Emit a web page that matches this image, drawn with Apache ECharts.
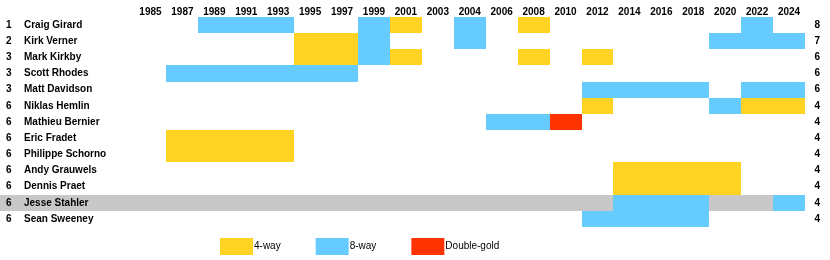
<!DOCTYPE html>
<html>
<head>
<meta charset="utf-8">
<script src="https://cdn.jsdelivr.net/npm/echarts@6/dist/echarts.min.js"></script>
<style>html,body{margin:0;padding:0;background:#fff}#c{width:830px;height:260px}</style>
</head>
<body>
<div id="c"></div>
<script>
const years = ['1985','1987','1989','1991','1993','1995','1997','1999','2001','2003','2004','2006','2008','2010','2012','2014','2016','2018','2020','2022','2024'];
const names = ['Craig Girard','Kirk Verner','Mark Kirkby','Scott Rhodes','Matt Davidson','Niklas Hemlin','Mathieu Bernier','Eric Fradet','Philippe Schorno','Andy Grauwels','Dennis Praet','Jesse Stahler','Sean Sweeney'];
const ranks = ['1','2','3','3','3','6','6','6','6','6','6','6','6'];
const totals = ['8','7','6','6','6','4','4','4','4','4','4','4','4'];
const highlighted = ['Jesse Stahler'];

const fourWay = [
  ['Craig Girard','2001'],['Craig Girard','2008'],
  ['Kirk Verner','1995'],['Kirk Verner','1997'],
  ['Mark Kirkby','1995'],['Mark Kirkby','1997'],['Mark Kirkby','2001'],['Mark Kirkby','2008'],['Mark Kirkby','2012'],
  ['Niklas Hemlin','2012'],['Niklas Hemlin','2022'],['Niklas Hemlin','2024'],
  ['Eric Fradet','1987'],['Eric Fradet','1989'],['Eric Fradet','1991'],['Eric Fradet','1993'],
  ['Philippe Schorno','1987'],['Philippe Schorno','1989'],['Philippe Schorno','1991'],['Philippe Schorno','1993'],
  ['Andy Grauwels','2014'],['Andy Grauwels','2016'],['Andy Grauwels','2018'],['Andy Grauwels','2020'],
  ['Dennis Praet','2014'],['Dennis Praet','2016'],['Dennis Praet','2018'],['Dennis Praet','2020']
];
const eightWay = [
  ['Craig Girard','1989'],['Craig Girard','1991'],['Craig Girard','1993'],['Craig Girard','1999'],['Craig Girard','2004'],['Craig Girard','2022'],
  ['Kirk Verner','1999'],['Kirk Verner','2004'],['Kirk Verner','2020'],['Kirk Verner','2022'],['Kirk Verner','2024'],
  ['Mark Kirkby','1999'],
  ['Scott Rhodes','1987'],['Scott Rhodes','1989'],['Scott Rhodes','1991'],['Scott Rhodes','1993'],['Scott Rhodes','1995'],['Scott Rhodes','1997'],
  ['Matt Davidson','2012'],['Matt Davidson','2014'],['Matt Davidson','2016'],['Matt Davidson','2018'],['Matt Davidson','2022'],['Matt Davidson','2024'],
  ['Niklas Hemlin','2020'],
  ['Mathieu Bernier','2006'],['Mathieu Bernier','2008'],
  ['Jesse Stahler','2014'],['Jesse Stahler','2016'],['Jesse Stahler','2018'],['Jesse Stahler','2024'],
  ['Sean Sweeney','2012'],['Sean Sweeney','2014'],['Sean Sweeney','2016'],['Sean Sweeney','2018']
];
const doubleGold = [
  ['Mathieu Bernier','2010']
];

const FONT = '"Liberation Sans", Arial, sans-serif';
const toCells = list => list.map(([n, y]) => [years.indexOf(y), names.indexOf(n)]);

function cellRender(params, api) {
  const c = api.coord([api.value(0), api.value(1)]);
  const s = api.size([1, 1]);
  const x1 = Math.round(c[0] - s[0] / 2), x2 = Math.round(c[0] + s[0] / 2);
  const y1 = Math.round(c[1] - s[1] / 2), y2 = Math.round(c[1] + s[1] / 2);
  return { type: 'rect', shape: { x: x1, y: y1, width: x2 - x1, height: y2 - y1 }, style: api.style() };
}
function bandRender(params, api) {
  const c = api.coord([0, api.value(1)]);
  const s = api.size([1, 1]);
  const y1 = Math.round(c[1] - s[1] / 2), y2 = Math.round(c[1] + s[1] / 2);
  const right = params.coordSys.x + params.coordSys.width;
  return { type: 'rect', shape: { x: 0, y: y1, width: Math.round(right), height: y2 - y1 }, style: { fill: '#C8C8C8' } };
}

const chart = echarts.init(document.getElementById('c'));
chart.setOption({
  animation: false,
  backgroundColor: '#ffffff',
  textStyle: { fontFamily: FONT },
  grid: { left: 134.5, right: 25, top: 17, bottom: 33, containLabel: false },
  legend: {
    data: ['4-way', '8-way', 'Double-gold'],
    left: 220, top: 238, padding: 0,
    icon: 'rect', itemWidth: 33, itemHeight: 17, itemGap: 35,
    textStyle: { fontFamily: FONT, fontSize: 10, color: '#000', padding: [0, 0, 0, -4] },
    selectedMode: false
  },
  xAxis: {
    type: 'category', position: 'top', data: years,
    axisLine: { show: false }, axisTick: { show: false }, splitLine: { show: false },
    axisLabel: { interval: 0, margin: 0, fontFamily: FONT, fontSize: 10, fontWeight: 'bold', color: '#000' }
  },
  yAxis: [
    {
      type: 'category', inverse: true, data: names, z: 5,
      axisLine: { show: false }, axisTick: { show: false }, splitLine: { show: false },
      axisLabel: {
        interval: 0, align: 'left', margin: 128.5, color: '#000',
        formatter: (v, i) => '{r|' + ranks[i] + '}{n|' + v + '}',
        rich: {
          r: { width: 18, fontFamily: FONT, fontSize: 10, fontWeight: 'bold', color: '#000' },
          n: { fontFamily: FONT, fontSize: 10, fontWeight: 'bold', color: '#000' }
        }
      }
    },
    {
      type: 'category', inverse: true, data: names, position: 'right', z: 5,
      axisLine: { show: false }, axisTick: { show: false }, splitLine: { show: false },
      axisLabel: {
        interval: 0, align: 'left', margin: 9.5, fontFamily: FONT, fontSize: 10, fontWeight: 'bold', color: '#000',
        formatter: (v, i) => totals[i]
      }
    }
  ],
  series: [
    { type: 'custom', name: 'highlight', z: 1, silent: true, renderItem: bandRender,
      data: highlighted.map(n => [0, names.indexOf(n)]) },
    { type: 'custom', name: '4-way', z: 2, renderItem: cellRender, itemStyle: { color: '#FFD324' }, data: toCells(fourWay) },
    { type: 'custom', name: '8-way', z: 2, renderItem: cellRender, itemStyle: { color: '#66CCFF' }, data: toCells(eightWay) },
    { type: 'custom', name: 'Double-gold', z: 2, renderItem: cellRender, itemStyle: { color: '#FF3300' }, data: toCells(doubleGold) }
  ]
});
</script>
</body>
</html>
